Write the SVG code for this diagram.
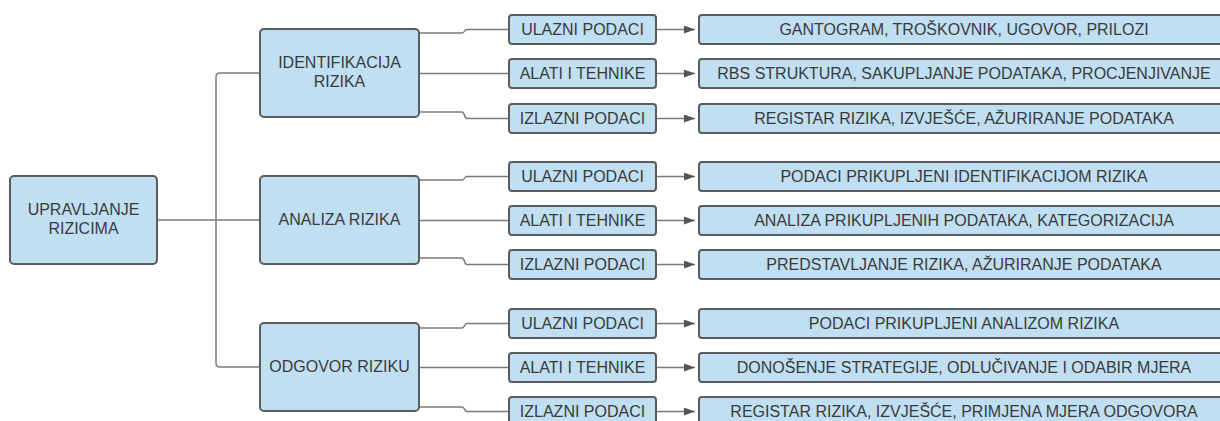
<svg xmlns="http://www.w3.org/2000/svg" width="1220" height="421" viewBox="0 0 1220 421">
<style>
.box{fill:#c0dff2;stroke:#5b5b5b;stroke-width:2}
.t{font-family:"Liberation Sans",Arial,sans-serif;font-size:16px;fill:#3a3a3a;text-anchor:middle}
.c{fill:none;stroke:#7a7a7a;stroke-width:1.5}
</style>
<defs>
<marker id="ah" markerWidth="11" markerHeight="8" refX="11" refY="4" orient="auto" markerUnits="userSpaceOnUse">
<path d="M0,0 L11,4 L0,8 Z" fill="#555"/>
</marker>
</defs>
<rect width="1220" height="421" fill="#fff"/>
<g id="connectors">
<path class="c" d="M157,220 H260"/>
<path class="c" d="M260,73 H220 Q216,73 216,77 V363 Q216,367 220,367 H260"/>
<path class="c" d="M419,33 H462 C465,33 464,29.5 467,29.5 H509"/>
<path class="c" d="M419,73.5 H509"/>
<path class="c" d="M419,112 H462 C465,112 464,118.5 467,118.5 H509"/>
<path class="c" d="M419,180 H462 C465,180 464,176.5 467,176.5 H509"/>
<path class="c" d="M419,220.5 H509"/>
<path class="c" d="M419,258 H462 C465,258 464,264.5 467,264.5 H509"/>
<path class="c" d="M419,328 H462 C465,328 464,323.5 467,323.5 H509"/>
<path class="c" d="M419,367.5 H509"/>
<path class="c" d="M419,407 H462 C465,407 464,411.5 467,411.5 H509"/>
<path class="c" d="M656,29.5 H695" marker-end="url(#ah)"/>
<path class="c" d="M656,73.5 H695" marker-end="url(#ah)"/>
<path class="c" d="M656,118.5 H695" marker-end="url(#ah)"/>
<path class="c" d="M656,176.5 H695" marker-end="url(#ah)"/>
<path class="c" d="M656,220.5 H695" marker-end="url(#ah)"/>
<path class="c" d="M656,264.5 H695" marker-end="url(#ah)"/>
<path class="c" d="M656,323.5 H695" marker-end="url(#ah)"/>
<path class="c" d="M656,367.5 H695" marker-end="url(#ah)"/>
<path class="c" d="M656,411.5 H695" marker-end="url(#ah)"/>
</g>
<g id="root">
<rect class="box" x="10" y="176" width="147" height="88" rx="4"/>
<text class="t" x="83.5" y="215">UPRAVLJANJE</text>
<text class="t" x="83.5" y="234">RIZICIMA</text>
</g>
<g id="identifikacija">
<rect class="box" x="260" y="29" width="159" height="88" rx="4"/>
<text class="t" x="339.5" y="68">IDENTIFIKACIJA</text>
<text class="t" x="339.5" y="87">RIZIKA</text>
</g>
<g id="analiza">
<rect class="box" x="260" y="176" width="159" height="88" rx="4"/>
<text class="t" x="339.5" y="225">ANALIZA RIZIKA</text>
</g>
<g id="odgovor">
<rect class="box" x="260" y="323" width="159" height="88" rx="4"/>
<text class="t" x="339.5" y="372">ODGOVOR RIZIKU</text>
</g>
<g id="g1-ulazni"><rect class="box" x="509" y="15" width="147" height="29" rx="3"/><text class="t" x="582.5" y="35">ULAZNI PODACI</text></g>
<g id="g1-alati"><rect class="box" x="509" y="59" width="147" height="29" rx="3"/><text class="t" x="582.5" y="79">ALATI I TEHNIKE</text></g>
<g id="g1-izlazni"><rect class="box" x="509" y="104" width="147" height="29" rx="3"/><text class="t" x="582.5" y="124">IZLAZNI PODACI</text></g>
<g id="g2-ulazni"><rect class="box" x="509" y="162" width="147" height="29" rx="3"/><text class="t" x="582.5" y="182">ULAZNI PODACI</text></g>
<g id="g2-alati"><rect class="box" x="509" y="206" width="147" height="29" rx="3"/><text class="t" x="582.5" y="226">ALATI I TEHNIKE</text></g>
<g id="g2-izlazni"><rect class="box" x="509" y="250" width="147" height="29" rx="3"/><text class="t" x="582.5" y="270">IZLAZNI PODACI</text></g>
<g id="g3-ulazni"><rect class="box" x="509" y="309" width="147" height="29" rx="3"/><text class="t" x="582.5" y="329">ULAZNI PODACI</text></g>
<g id="g3-alati"><rect class="box" x="509" y="353" width="147" height="29" rx="3"/><text class="t" x="582.5" y="373">ALATI I TEHNIKE</text></g>
<g id="g3-izlazni"><rect class="box" x="509" y="397" width="147" height="29" rx="3"/><text class="t" x="582.5" y="417">IZLAZNI PODACI</text></g>
<g id="g1-ulazni-d"><rect class="box" x="699" y="15" width="530" height="29" rx="3"/><text class="t" x="964" y="35">GANTOGRAM, TROŠKOVNIK, UGOVOR, PRILOZI</text></g>
<g id="g1-alati-d"><rect class="box" x="699" y="59" width="530" height="29" rx="3"/><text class="t" x="964" y="79">RBS STRUKTURA, SAKUPLJANJE PODATAKA, PROCJENJIVANJE</text></g>
<g id="g1-izlazni-d"><rect class="box" x="699" y="104" width="530" height="29" rx="3"/><text class="t" x="964" y="124">REGISTAR RIZIKA, IZVJEŠĆE, AŽURIRANJE PODATAKA</text></g>
<g id="g2-ulazni-d"><rect class="box" x="699" y="162" width="530" height="29" rx="3"/><text class="t" x="964" y="182">PODACI PRIKUPLJENI IDENTIFIKACIJOM RIZIKA</text></g>
<g id="g2-alati-d"><rect class="box" x="699" y="206" width="530" height="29" rx="3"/><text class="t" x="964" y="226">ANALIZA PRIKUPLJENIH PODATAKA, KATEGORIZACIJA</text></g>
<g id="g2-izlazni-d"><rect class="box" x="699" y="250" width="530" height="29" rx="3"/><text class="t" x="964" y="270">PREDSTAVLJANJE RIZIKA, AŽURIRANJE PODATAKA</text></g>
<g id="g3-ulazni-d"><rect class="box" x="699" y="309" width="530" height="29" rx="3"/><text class="t" x="964" y="329">PODACI PRIKUPLJENI ANALIZOM RIZIKA</text></g>
<g id="g3-alati-d"><rect class="box" x="699" y="353" width="530" height="29" rx="3"/><text class="t" x="964" y="373">DONOŠENJE STRATEGIJE, ODLUČIVANJE I ODABIR MJERA</text></g>
<g id="g3-izlazni-d"><rect class="box" x="699" y="397" width="530" height="29" rx="3"/><text class="t" x="964" y="417">REGISTAR RIZIKA, IZVJEŠĆE, PRIMJENA MJERA ODGOVORA</text></g>
</svg>
